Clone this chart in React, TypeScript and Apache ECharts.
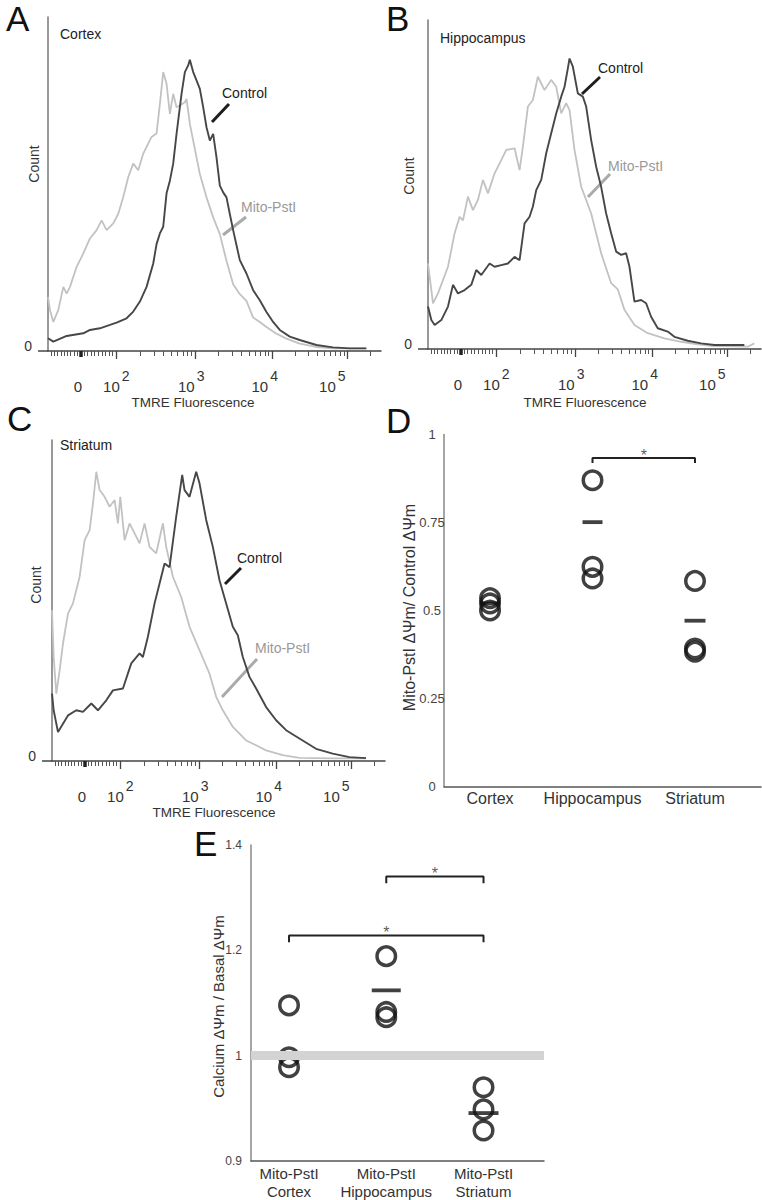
import React, { useEffect, useRef } from 'react';
import * as echarts from 'echarts';

const FONT = '"Liberation Sans", Arial, Helvetica, sans-serif';

// ---------- Histogram data: [channel on biexponential TMRE axis (0–1000), count (% of axis height)]
const cortexControl: number[][] = [
  [0, 3.8], [16, 2.8], [56, 4.5], [106, 5.3], [126, 6.3], [156, 6.8], [186, 7.8], [206, 8.5], [236, 9.8],
  [256, 11.8], [276, 14.8], [296, 19.2], [316, 26.2], [326, 32], [336, 35.2], [346, 37.2], [356, 47.2],
  [366, 51], [376, 56.1], [386, 65], [401, 77], [411, 83.5], [421, 85.5], [426, 87.2], [436, 83.5],
  [446, 81], [456, 78.5], [466, 73], [476, 67], [486, 63], [496, 65], [506, 58], [516, 49.5], [526, 47.5],
  [536, 46], [546, 41], [556, 36.2], [576, 27.2], [596, 23.2], [616, 18.2], [636, 15.2], [656, 11.7],
  [676, 8.7], [696, 6.3], [726, 4.3], [756, 3.3], [806, 1.8], [856, 1.1], [906, 0.8], [956, 0.8],
];
const cortexMito: number[][] = [
  [0, 16.2], [6, 12.3], [16, 8.7], [31, 12.3], [46, 19.2], [56, 17.2], [66, 19.2], [86, 25.2], [106, 29.2],
  [126, 33.7], [146, 36.2], [161, 39.1], [176, 36.2], [196, 38.2], [211, 41.1], [226, 46.1], [241, 52.1],
  [256, 56.1], [271, 54.1], [286, 59.1], [311, 64.1], [326, 65.1], [336, 74], [346, 83.5], [356, 80],
  [366, 71], [376, 77], [386, 73], [396, 73.5], [411, 74.5], [416, 75.5], [426, 68], [436, 63], [456, 53],
  [476, 46], [496, 40], [516, 35], [536, 27], [556, 20], [576, 17], [596, 15], [616, 10], [636, 8.7],
  [656, 7.2], [686, 5.2], [716, 3.7], [756, 2.2], [806, 1.2], [856, 0.8], [906, 0.8], [956, 0.8],
];
const hippoControl: number[][] = [
  [0, 12.9], [10, 8.8], [20, 7.3], [40, 8.8], [60, 12.9], [75, 19.5], [90, 16.9], [110, 17.9], [130, 19.5],
  [145, 24], [160, 22.5], [185, 26], [200, 25], [220, 25.5], [240, 26], [260, 28], [275, 27], [290, 38.2],
  [305, 40.2], [315, 43.3], [325, 48.3], [340, 51.4], [355, 59.5], [370, 65.6], [385, 71.6], [400, 76.7],
  [410, 79.7], [420, 85.3], [425, 88.3], [435, 85.8], [450, 77.7], [465, 76.7], [475, 73.7], [490, 63.5],
  [505, 55.4], [520, 49.3], [535, 41.2], [550, 35.2], [565, 29.6], [580, 28.6], [595, 29.1], [605, 25],
  [620, 14.4], [640, 14.9], [655, 13.9], [670, 9.8], [690, 6.3], [720, 5.3], [740, 3.7], [780, 2.5],
  [820, 1.7], [860, 1.2], [950, 1.2],
];
const hippoMito: number[][] = [
  [0, 26], [15, 13.9], [30, 16.9], [60, 25], [80, 35.2], [95, 40.2], [105, 39.1], [120, 46.3], [135, 42.2],
  [150, 45.3], [165, 51.4], [180, 47.3], [200, 53.4], [220, 57.4], [235, 60.5], [260, 61], [275, 54.4],
  [285, 61.5], [300, 73.7], [315, 75.7], [330, 82.8], [340, 80.7], [350, 78.7], [370, 81.8], [385, 79.7],
  [400, 71.6], [415, 74.7], [425, 72.6], [440, 60.5], [460, 49.3], [475, 45.3], [490, 41.2], [520, 29.1],
  [550, 20], [570, 18.1], [590, 11.9], [620, 7.3], [660, 4.8], [710, 3.2], [760, 2.2], [810, 1.4],
  [860, 0.9], [960, 0.7], [980, 1.7],
];
const striatumControl: number[][] = [
  [0, 21], [5, 15.8], [18, 9], [33, 11.6], [48, 14.2], [73, 15.8], [93, 15.3], [118, 17.9], [138, 15.8],
  [163, 18.9], [183, 22], [213, 22.6], [238, 30.4], [263, 33.5], [273, 32.4], [288, 38.7], [308, 49.1],
  [323, 55.3], [338, 61.5], [353, 60.4], [373, 76.1], [391, 89.1], [398, 84.4], [413, 82.3], [433, 90.1],
  [443, 86.5], [463, 75.1], [483, 66.7], [503, 56.3], [523, 49.1], [543, 41.8], [558, 39.2], [573, 32.4],
  [593, 26.2], [613, 22.6], [643, 16.8], [673, 12.7], [703, 9.6], [743, 7], [793, 3.8], [843, 2.3],
  [893, 1.2], [943, 0.9],
];
const striatumMito: number[][] = [
  [0, 47], [5, 32.4], [13, 21], [23, 28.3], [33, 36.6], [48, 45.9], [63, 49.1], [83, 57.4], [98, 68.8],
  [113, 71.9], [123, 80.2], [133, 90.1], [143, 84.4], [158, 82.3], [173, 79.2], [188, 81.3], [198, 74],
  [205, 82.3], [218, 68.8], [233, 74], [253, 69.9], [263, 67.8], [278, 74], [293, 66.7], [313, 64.7],
  [333, 74], [343, 66.7], [363, 57.4], [388, 51.1], [413, 41.8], [443, 34.5], [473, 27.2], [493, 20],
  [513, 15.8], [543, 10.6], [583, 6.4], [613, 4.9], [643, 3.3], [693, 1.8], [743, 1], [843, 0.8], [943, 0.8],
];

// Biexponential axis calibration (channel units)
const histTickLabels = ['0', '10^2', '10^3', '10^4', '10^5'];
const histLabelChannels = [90, 190.5, 415.5, 636, 839];
const zeroChannel = 97.5;
const decadeChannels = [204.6, 442, 673.5, 898.5];

// ---------- Panel D
const dGroups = ['Cortex', 'Hippocampus', 'Striatum'];
const dPoints = [
  [0.535, 0.52, 0.5],
  [0.87, 0.624, 0.591],
  [0.584, 0.392, 0.383],
];
const dMeans = [0.52, 0.751, 0.471];
const dBrackets = [[2, 3, 0.933]];

// ---------- Panel E
const eGroups = ['Mito-PstI\nCortex', 'Mito-PstI\nHippocampus', 'Mito-PstI\nStriatum'];
const ePoints = [
  [1.0955, 0.997, 0.978],
  [1.189, 1.083, 1.073],
  [0.94, 0.898, 0.858],
];
const eMeans = [1.0, 1.124, 0.891];
const eTicks = [0.8, 1.0, 1.2, 1.4];
const eTickLabels = ['0.9', '1', '1.2', '1.4'];
const eBaseline = 1.0;
const eBrackets = [[2, 3, 1.34], [1, 3, 1.228]];

const CONTROL_COLOR = '#474747';
const MITO_COLOR = '#c2c2c2';
const SUP_SHIFT = 43; // horizontal shift of the exponent, in channel units

function minorTicks(): number[] {
  const out: number[] = [];
  for (let k = 1; k < 10; k++) out.push((zeroChannel * k) / 10);
  for (let k = 1; k < 10; k++) out.push(zeroChannel + ((decadeChannels[0] - zeroChannel) * k) / 10);
  for (let d = 0; d < decadeChannels.length; d++) {
    const w = d < decadeChannels.length - 1 ? decadeChannels[d + 1] - decadeChannels[d] : decadeChannels[d] - decadeChannels[d - 1];
    for (let k = 2; k < 10; k++) {
      const v = decadeChannels[d] + Math.log10(k) * w;
      if (v < 1000) out.push(v);
    }
  }
  return out;
}

function nearestIndex(arr: number[], v: number) {
  let best = 0;
  for (let i = 1; i < arr.length; i++) if (Math.abs(arr[i] - v) < Math.abs(arr[best] - v)) best = i;
  return best;
}

const histGrids = [
  { left: 48, top: 17, width: 333, height: 334 },
  { left: 428, top: 20, width: 333, height: 329 },
  { left: 52, top: 440, width: 333, height: 321 },
];

function buildOption() {
  const grids: any[] = [...histGrids, { left: 444, top: 434.5, width: 317, height: 352 }, { left: 251, top: 845, width: 293, height: 317.3 }];
  const xAxes: any[] = [];
  const yAxes: any[] = [];
  const series: any[] = [];
  const minors = minorTicks();
  const baseTexts = histTickLabels.map((t) => t.split('^')[0]);
  const supTexts = histTickLabels.map((t) => t.split('^')[1] || '');
  const supChannels: number[] = [];
  const supLabels: string[] = [];
  supTexts.forEach((s, i) => {
    if (s) {
      supChannels.push(histLabelChannels[i] + SUP_SHIFT);
      supLabels.push(s);
    }
  });
  const histData = [
    [cortexControl, cortexMito],
    [hippoControl, hippoMito],
    [striatumControl, striatumMito],
  ];
  histGrids.forEach((_, g) => {
    const base = { gridIndex: g, type: 'value', min: 0, max: 1000, position: 'bottom', splitLine: { show: false } };
    const mainIndex = xAxes.length;
    xAxes.push({
      ...base,
      axisLine: { show: true, onZero: false, lineStyle: { color: '#444', width: 1.5 } },
      axisTick: { show: true, customValues: decadeChannels, length: 8, lineStyle: { color: '#444', width: 1.3 } },
      axisLabel: {
        show: true,
        customValues: histLabelChannels,
        margin: 28,
        fontSize: 15,
        lineHeight: 15,
        fontFamily: FONT,
        color: '#333',
        formatter: (v: number) => baseTexts[nearestIndex(histLabelChannels, v)],
      },
    });
    xAxes.push({
      ...base,
      axisLine: { show: false },
      axisTick: { show: false },
      axisLabel: {
        show: true,
        customValues: supChannels,
        margin: 18,
        fontSize: 14,
        lineHeight: 14,
        fontFamily: FONT,
        color: '#333',
        formatter: (v: number) => supLabels[nearestIndex(supChannels, v)],
      },
    });
    xAxes.push({
      ...base,
      axisLine: { show: false },
      axisTick: { show: true, customValues: minors, length: 5, lineStyle: { color: '#555', width: 1 } },
      axisLabel: { show: false },
    });
    xAxes.push({
      ...base,
      axisLine: { show: false },
      axisTick: { show: true, customValues: [zeroChannel], length: 6, lineStyle: { color: '#222', width: 3.5 } },
      axisLabel: { show: false },
    });
    yAxes.push({
      gridIndex: g,
      type: 'value',
      min: 0,
      max: 100,
      splitLine: { show: false },
      axisLine: { show: true, onZero: false, lineStyle: { color: '#777', width: 1.5 } },
      axisTick: { show: true, customValues: [0], length: 10, lineStyle: { color: '#444', width: 1.5 } },
      axisLabel: {
        show: true,
        customValues: [0],
        formatter: () => '0',
        margin: 16,
        fontSize: 14,
        fontFamily: FONT,
        color: '#333',
        verticalAlign: 'bottom',
        lineHeight: 10,
      },
    });
    const [ctrl, mito] = histData[g];
    series.push({
      type: 'line',
      xAxisIndex: mainIndex,
      yAxisIndex: g,
      data: mito,
      symbol: 'none',
      lineStyle: { color: MITO_COLOR, width: 1.8 },
      z: 2,
    });
    series.push({
      type: 'line',
      xAxisIndex: mainIndex,
      yAxisIndex: g,
      data: ctrl,
      symbol: 'none',
      lineStyle: { color: CONTROL_COLOR, width: 1.9 },
      z: 3,
    });
  });

  // Panel D axes
  const dX = xAxes.length;
  xAxes.push({
    gridIndex: 3,
    type: 'value',
    min: 0.551,
    max: 3.644,
    splitLine: { show: false },
    axisLine: { show: true, onZero: false, lineStyle: { color: '#555', width: 1.5 } },
    axisTick: { show: false },
    axisLabel: {
      customValues: [1, 2, 3],
      formatter: (v: number) => dGroups[Math.round(v) - 1],
      fontSize: 16,
      fontFamily: FONT,
      color: '#333',
      margin: 4,
    },
  });
  yAxes.push({
    gridIndex: 3,
    type: 'value',
    min: 0,
    max: 1,
    interval: 0.25,
    splitLine: { show: false },
    axisLine: { show: true, onZero: false, lineStyle: { color: '#888', width: 1.5 } },
    axisTick: { show: false },
    axisLabel: { fontSize: 13, fontFamily: FONT, color: '#444', align: 'center', margin: 12 },
  });
  // Panel E axes
  const eX = xAxes.length;
  xAxes.push({
    gridIndex: 4,
    type: 'value',
    min: 0.609,
    max: 3.622,
    splitLine: { show: false },
    axisLine: { show: true, onZero: false, lineStyle: { color: '#555', width: 1.5 } },
    axisTick: { show: false },
    axisLabel: {
      customValues: [1, 2, 3],
      formatter: (v: number) => eGroups[Math.round(v) - 1],
      fontSize: 15,
      lineHeight: 18,
      fontFamily: FONT,
      color: '#333',
      margin: 3,
    },
  });
  yAxes.push({
    gridIndex: 4,
    type: 'value',
    min: 0.8,
    max: 1.4,
    interval: 0.2,
    splitLine: { show: false },
    axisLine: { show: true, onZero: false, lineStyle: { color: '#888', width: 1.5 } },
    axisTick: { show: false },
    axisLabel: {
      formatter: (v: number) => eTickLabels[nearestIndex(eTicks, v)],
      fontSize: 12,
      fontFamily: FONT,
      color: '#444',
      margin: 9,
    },
  });

  // Baseline band in E
  series.push({
    type: 'line',
    xAxisIndex: eX,
    yAxisIndex: 4,
    data: [],
    z: 1,
    markLine: {
      silent: true,
      symbol: ['none', 'none'],
      label: { show: false },
      lineStyle: { color: '#d3d3d3', width: 9, type: 'solid' },
      data: [{ yAxis: eBaseline }],
    },
  });

  const dotPanels = [
    { xi: dX, yi: 3, points: dPoints, means: dMeans, meanW: [20, 20, 21], brackets: dBrackets, drop: 0.014, starGap: 0.008 },
    { xi: eX, yi: 4, points: ePoints, means: eMeans, meanW: [20, 29, 30], brackets: eBrackets, drop: 0.0125, starGap: 0.005 },
  ];
  dotPanels.forEach((p) => {
    const circles: number[][] = [];
    p.points.forEach((vals, gi) => vals.forEach((v) => circles.push([gi + 1, v])));
    series.push({
      type: 'scatter',
      xAxisIndex: p.xi,
      yAxisIndex: p.yi,
      data: circles,
      symbol: 'circle',
      symbolSize: 18.5,
      itemStyle: { color: 'rgba(0,0,0,0)', borderColor: '#111', borderWidth: 3.5 },
      z: 3,
    });
    series.push({
      type: 'scatter',
      xAxisIndex: p.xi,
      yAxisIndex: p.yi,
      data: p.means.map((m, gi) => ({ value: [gi + 1, m], symbolSize: [p.meanW[gi], 3.8] })),
      symbol: 'rect',
      itemStyle: { color: '#111' },
      z: 4,
    });
    p.brackets.forEach(([a, b, y]) => {
      series.push({
        type: 'line',
        xAxisIndex: p.xi,
        yAxisIndex: p.yi,
        data: [[a, y - p.drop], [a, y], [b, y], [b, y - p.drop]],
        symbol: 'none',
        lineStyle: { color: '#222', width: 2 },
        z: 3,
      });
      series.push({
        type: 'scatter',
        xAxisIndex: p.xi,
        yAxisIndex: p.yi,
        data: [[(a + b) / 2, y + p.starGap]],
        symbolSize: 1,
        itemStyle: { color: 'rgba(0,0,0,0)' },
        label: { show: true, position: 'inside', formatter: '*', fontSize: 16, fontFamily: FONT, color: '#333' },
        z: 3,
      });
    });
  });

  const txt = (text: string, x: number, y: number, size: number, fill = '#222', extra: any = {}) => {
    const { align, lineHeight, ...rest } = extra;
    return {
      type: 'text',
      x,
      y,
      ...rest,
      style: {
        text,
        fontSize: size,
        fontFamily: FONT,
        fill,
        align: align || 'left',
        verticalAlign: 'middle',
        ...(lineHeight ? { lineHeight } : {}),
      },
    };
  };
  const seg = (x1: number, y1: number, x2: number, y2: number, stroke: string) => ({
    type: 'line',
    shape: { x1, y1, x2, y2 },
    style: { stroke, lineWidth: 3 },
  });
  const rot = { rotation: Math.PI / 2, align: 'center' };
  const big = { lineHeight: 28 };

  const graphic: any[] = [
    txt('A', 6, 18, 35, '#111', big),
    txt('B', 386, 18, 35, '#111', big),
    txt('C', 7, 418, 35, '#111', big),
    txt('D', 386, 420, 35, '#111', big),
    txt('E', 194, 843, 35, '#111', big),
    txt('Cortex', 60, 33.5, 14),
    txt('Hippocampus', 440, 37.5, 14),
    txt('Striatum', 60, 445, 14),
    txt('Count', 33.5, 164, 14, '#333', rot),
    txt('Count', 408.5, 176, 14, '#333', rot),
    txt('Count', 35.8, 585, 14, '#333', rot),
    txt('TMRE Fluorescence', 193, 402, 13.5, '#333', { align: 'center' }),
    txt('TMRE Fluorescence', 585, 402, 13.5, '#333', { align: 'center' }),
    txt('TMRE Fluorescence', 214, 812, 13.5, '#333', { align: 'center' }),
    txt('Control', 222, 93, 14),
    seg(212, 122, 229, 104, '#1e1e1e'),
    txt('Mito-PstI', 241, 207, 14, '#999'),
    seg(223, 235, 246, 217, '#aaa'),
    txt('Control', 598, 68, 14),
    seg(582, 94, 600, 77, '#1e1e1e'),
    txt('Mito-PstI', 608, 166, 14, '#999'),
    seg(588, 197, 610, 174, '#aaa'),
    txt('Control', 237, 558, 14),
    seg(225, 584, 241, 568, '#1e1e1e'),
    txt('Mito-PstI', 255, 648, 14, '#999'),
    seg(222, 697, 257, 659, '#aaa'),
    txt('Mito-PstI ΔΨm/ Control ΔΨm', 409.5, 607.5, 16, '#333', rot),
    txt('Calcium ΔΨm / Basal ΔΨm', 218.5, 1006.5, 15, '#333', rot),
  ];

  return {
    animation: false,
    backgroundColor: '#ffffff',
    grid: grids,
    xAxis: xAxes,
    yAxis: yAxes,
    series,
    graphic,
  };
}

export default function App() {
  const ref = useRef<HTMLDivElement>(null);
  useEffect(() => {
    if (!ref.current) return;
    const chart = echarts.init(ref.current, undefined, { renderer: 'svg' });
    chart.setOption(buildOption() as any);
    return () => chart.dispose();
  }, []);
  return <div ref={ref} style={{ position: 'absolute', left: 0, top: 0, width: 762, height: 1200 }} />;
}
